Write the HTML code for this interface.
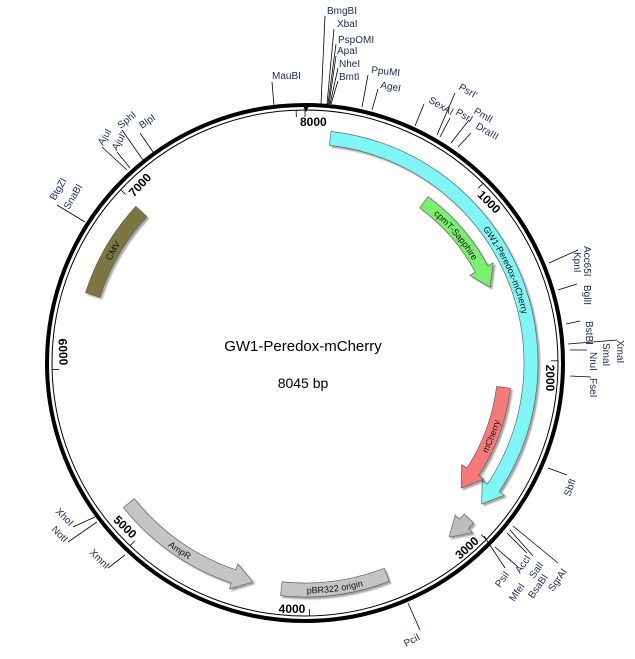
<!DOCTYPE html>
<html><head><meta charset="utf-8">
<style>
html,body{margin:0;padding:0;background:#fff;width:635px;height:659px;overflow:hidden}
svg{display:block}
.s{font-family:"Liberation Sans",sans-serif;font-size:10px;fill:#1b2a5c}
.t{font-family:"Liberation Sans",sans-serif;font-size:12px;font-weight:bold;fill:#000}
.f{font-family:"Liberation Sans",sans-serif;font-size:9px;fill:#111}
.l{stroke:#000;stroke-width:0.8;fill:none}
</style></head><body>
<svg id="sv" width="635" height="659" viewBox="0 0 635 659" xmlns="http://www.w3.org/2000/svg">
<defs>
<filter id="sh" x="-20%" y="-20%" width="140%" height="140%"><feDropShadow dx="2" dy="2" stdDeviation="0.8" flood-color="#000" flood-opacity="0.35"/></filter>
</defs>
<circle cx="305" cy="363" r="258" fill="none" stroke="#000" stroke-width="4"/>
<circle cx="305" cy="363" r="253" fill="none" stroke="#000" stroke-width="1"/>
<g id="feat"></g>
<g id="ticks"></g>
<path d="M303,106 L309,106 L306,112 Z" fill="#000"/>

<!-- site lines -->
<g class="l">
<line x1="274" y1="106" x2="272" y2="82"/>
<line x1="321" y1="104" x2="325" y2="16"/>
<line x1="327" y1="104" x2="334" y2="29"/>
<line x1="328" y1="104" x2="336" y2="44"/>
<line x1="329" y1="104" x2="336" y2="56"/>
<line x1="330" y1="104" x2="338" y2="68"/>
<line x1="331" y1="104" x2="338" y2="81"/>
<line x1="362" y1="107" x2="368" y2="75"/>
<line x1="372" y1="110" x2="378" y2="89"/>
<line x1="415" y1="126" x2="424" y2="104"/>
<line x1="437" y1="135" x2="455" y2="93"/>
<line x1="440" y1="137" x2="450" y2="118"/>
<line x1="451" y1="143" x2="469" y2="120"/>
<line x1="458" y1="147" x2="471" y2="133"/>
<line x1="549" y1="263" x2="578" y2="250"/>
<line x1="558" y1="290" x2="577" y2="284"/>
<line x1="566" y1="324" x2="580" y2="321"/>
<line x1="568" y1="344" x2="617" y2="340"/>
<line x1="570" y1="350" x2="587" y2="350"/>
<line x1="570" y1="376" x2="591" y2="377"/>
<line x1="548" y1="468" x2="567" y2="475"/>
<line x1="484" y1="536" x2="505" y2="568"/>
<line x1="495" y1="547" x2="518" y2="567"/>
<line x1="507" y1="533" x2="527" y2="553"/>
<line x1="510" y1="530" x2="533" y2="556"/>
<line x1="513" y1="526" x2="558" y2="563"/>
<line x1="408" y1="603" x2="420" y2="630"/>
<line x1="127" y1="170" x2="102" y2="147"/>
<line x1="130" y1="168" x2="117" y2="152"/>
<line x1="143" y1="160" x2="122" y2="130"/>
<line x1="153" y1="152" x2="140" y2="133"/>
<line x1="85" y1="222" x2="57" y2="205"/>
<line x1="95" y1="517" x2="73" y2="527"/>
<line x1="97" y1="522" x2="68" y2="542"/>
<line x1="125" y1="555" x2="108" y2="568"/>
</g>

<!-- site labels -->
<g class="s">
<text x="272" y="79">MauBI</text>
<text x="327" y="14">BmgBI</text>
<text x="337" y="27">XbaI</text>
<text x="338" y="43">PspOMI</text>
<text x="337" y="54">ApaI</text>
<text x="339" y="67">NheI</text>
<text x="339" y="80">BmtI</text>
<text x="371" y="73" transform="rotate(6 371 73)">PpuMI</text>
<text x="380" y="88" transform="rotate(10 380 88)">AgeI</text>
<text x="428" y="102" transform="rotate(30 428 102)">SexAI</text>
<text x="458" y="89" transform="rotate(30 458 89)">PsrI'</text>
<text x="455" y="114" transform="rotate(30 455 114)">PsrI</text>
<text x="473" y="113" transform="rotate(30 473 113)">PmlI</text>
<text x="475" y="128" transform="rotate(30 475 128)">DraIII</text>
<text x="584" y="246" transform="rotate(90 584 246)">Acc65I</text>
<text x="574" y="252" transform="rotate(90 574 252)">KpnI</text>
<text x="584" y="285" transform="rotate(90 584 285)">BglII</text>
<text x="586" y="321" transform="rotate(90 586 321)">BstBI</text>
<text x="617" y="340" transform="rotate(90 617 340)">XmaI</text>
<text x="603" y="343" transform="rotate(90 603 343)">SmaI</text>
<text x="590" y="352" transform="rotate(90 590 352)">NruI</text>
<text x="590" y="378" transform="rotate(90 590 378)">FseI</text>
<text x="570" y="497" transform="rotate(-70 570 497)">SbfI</text>
<text x="500" y="588" transform="rotate(-55 500 588)">PsiI</text>
<text x="514" y="602" transform="rotate(-55 514 602)">MfeI</text>
<text x="520" y="574" transform="rotate(-55 520 574)">AccI</text>
<text x="534" y="579" transform="rotate(-55 534 579)">SalI</text>
<text x="533" y="599" transform="rotate(-55 533 599)">BsaBI</text>
<text x="553" y="592" transform="rotate(-55 553 592)">SgrAI</text>
<text x="406" y="647" transform="rotate(-28 406 647)">PciI</text>
<text x="103" y="146" transform="rotate(-60 103 146)">AjuI</text>
<text x="117" y="151" transform="rotate(-60 117 151)">AjuI'</text>
<text x="121" y="129" transform="rotate(-40 121 129)">SphI</text>
<text x="142" y="129" transform="rotate(-35 142 129)">BlpI</text>
<text x="55" y="201" transform="rotate(-60 55 201)">BtgZI</text>
<text x="69" y="210" transform="rotate(-60 69 210)">SnaBI</text>
<text x="55" y="512" transform="rotate(45 55 512)">XhoI</text>
<text x="51" y="530" transform="rotate(45 51 530)">NotI</text>
<text x="89" y="553" transform="rotate(45 89 553)">XmnI</text>
</g>

<!-- tick labels -->
<g class="t">
<text x="300" y="126">8000</text>
<text x="489" y="206" text-anchor="middle" transform="rotate(45 489 202)">1000</text>
<text x="550" y="382" text-anchor="middle" transform="rotate(90 550 378)">2000</text>
<text x="467" y="552" text-anchor="middle" transform="rotate(-42 467 548)">3000</text>
<text x="292" y="613" text-anchor="middle">4000</text>
<text x="125" y="531" text-anchor="middle" transform="rotate(44 125 527)">5000</text>
<text x="63" y="356" text-anchor="middle" transform="rotate(88 63 352)">6000</text>
<text x="140" y="189" text-anchor="middle" transform="rotate(-47 140 185)">7000</text>
</g>

<text x="303" y="351" text-anchor="middle" style="font-family:'Liberation Sans',sans-serif;font-size:15px;fill:#000">GW1-Peredox-mCherry</text>
<text x="303" y="388" text-anchor="middle" style="font-family:'Liberation Sans',sans-serif;font-size:14px;fill:#000">8045 bp</text>

<g id="labels" class="f">
<text><textPath href="#p_cyan" startOffset="50%" text-anchor="middle">GW1-Peredox-mCherry</textPath></text>
<text><textPath href="#p_green" startOffset="50%" text-anchor="middle">cpmT-Sapphire</textPath></text>
<text><textPath href="#p_red" startOffset="50%" text-anchor="middle">mCherry</textPath></text>
<text><textPath href="#p_amp" startOffset="50%" text-anchor="middle">AmpR</textPath></text>
<text><textPath href="#p_ori" startOffset="50%" text-anchor="middle">pBR322 origin</textPath></text>
<text><textPath href="#p_cmv" startOffset="50%" text-anchor="middle">CMV</textPath></text>
</g>
<g id="tp"></g>
</svg>
<script>
(function(){
var cx=305,cy=363,NS="http://www.w3.org/2000/svg";
function P(r,a){var t=a*Math.PI/180;return [(cx+r*Math.sin(t)).toFixed(2),(cy-r*Math.cos(t)).toFixed(2)];}
function arc(r,a1,a2){var p=P(r,a2);var large=Math.abs(a2-a1)>180?1:0;var sw=a2>a1?1:0;return " A"+r+","+r+" 0 "+large+","+sw+" "+p[0]+","+p[1];}
function feature(a1,a2,r,w,arrow,fill){
 var dir=a2>a1?1:-1;var h=arrow?(20/r*180/Math.PI):0;var ab=a2-dir*h;
 var ro=r+w/2,ri=r-w/2;var s=P(ro,a1);
 var d="M"+s[0]+","+s[1]+arc(ro,a1,ab);
 if(arrow){var q1=P(r+w*0.95,ab),t=P(r,a2),q2=P(r-w*0.95,ab),q3=P(ri,ab);
  d+=" L"+q1.join(",")+" L"+t.join(",")+" L"+q2.join(",")+" L"+q3.join(",");}
 else{var e=P(ri,ab);d+=" L"+e.join(",");}
 d+=arc(ri,ab,a1)+" Z";
 var p=document.createElementNS(NS,"path");p.setAttribute("d",d);p.setAttribute("fill",fill);
 p.setAttribute("stroke","#555");p.setAttribute("stroke-width","0.6");p.setAttribute("filter","url(#sh)");
 document.getElementById("feat").appendChild(p);}
function tpath(id,r,a1,a2){var s=P(r,a1);var p=document.createElementNS(NS,"path");
 p.setAttribute("id",id);p.setAttribute("d","M"+s[0]+","+s[1]+arc(r,a1,a2));p.setAttribute("fill","none");
 document.querySelector("defs").appendChild(p);}
feature(6.4,128.6,226,14,true,"#7ff5f5");
feature(36.5,67.7,200,14,true,"#7cf06e");
feature(97,128.7,200,14,true,"#f57a78");
feature(133.5,140.4,226,13,true,"#bdbdbd");
feature(231.5,193.4,225,14,true,"#c4c4c4");
feature(158.9,186,227,14,false,"#c4c4c4");
feature(287.8,312.8,223,15,false,"#7a7840");
tpath("p_cyan",222.5,6.4,124);
tpath("p_green",196.5,36.5,63);
tpath("p_red",203.5,126,97);
tpath("p_amp",228.5,231.5,196);
tpath("p_ori",230.5,186,158.9);
tpath("p_cmv",219.5,287.8,312.8);
var tg=document.getElementById("ticks");
for(var k=0;k<9;k++){var a=k*1000/8045*360;var p1=P(253,a),p2=P(246,a);
 var l=document.createElementNS(NS,"line");l.setAttribute("x1",p1[0]);l.setAttribute("y1",p1[1]);
 l.setAttribute("x2",p2[0]);l.setAttribute("y2",p2[1]);l.setAttribute("stroke","#000");l.setAttribute("stroke-width","0.8");tg.appendChild(l);}
})();
</script>
</body></html>
